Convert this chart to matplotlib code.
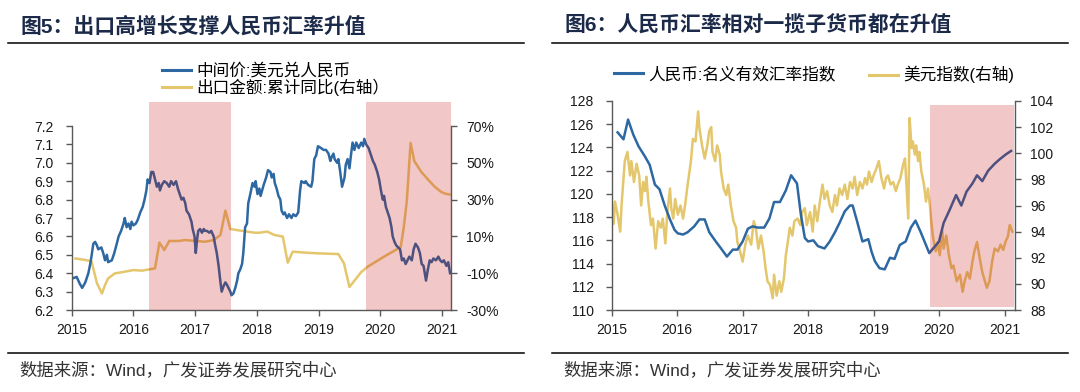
import numpy as np
import matplotlib.pyplot as plt
from matplotlib.patches import Rectangle
from matplotlib.lines import Line2D
from matplotlib.ticker import FuncFormatter

plt.rcParams['font.family'] = ['Liberation Sans', 'Noto Sans CJK SC']

# ---- figure 5: USD/CNY central parity (left) and export yoy (right axis) ----
FIX_T = [2015.00, 2015.08, 2015.135, 2015.17, 2015.22, 2015.27, 2015.30, 2015.32, 2015.35, 2015.38,
         2015.41, 2015.43, 2015.48, 2015.51, 2015.54, 2015.57, 2015.59, 2015.65, 2015.69, 2015.73,
         2015.76, 2015.80, 2015.84, 2015.86, 2015.89, 2015.92, 2015.95, 2015.97, 2016.00, 2016.04,
         2016.07, 2016.11, 2016.15, 2016.18, 2016.21, 2016.23, 2016.26, 2016.29, 2016.32, 2016.35,
         2016.38, 2016.41, 2016.43, 2016.46, 2016.50, 2016.54, 2016.58, 2016.61, 2016.65, 2016.69,
         2016.72, 2016.76, 2016.78, 2016.81, 2016.84, 2016.86, 2016.90, 2016.94, 2016.96, 2016.99,
         2017.01, 2017.03, 2017.05, 2017.08, 2017.11, 2017.14, 2017.16, 2017.19, 2017.23, 2017.26,
         2017.30, 2017.32, 2017.35, 2017.38, 2017.41, 2017.43, 2017.46, 2017.49, 2017.51, 2017.54,
         2017.57, 2017.59, 2017.62, 2017.65, 2017.68, 2017.70, 2017.73, 2017.76, 2017.78, 2017.81,
         2017.84, 2017.86, 2017.90, 2017.93, 2017.96, 2017.98, 2018.01, 2018.04, 2018.06, 2018.11,
         2018.15, 2018.18, 2018.22, 2018.24, 2018.27, 2018.29, 2018.32, 2018.35, 2018.38, 2018.40,
         2018.43, 2018.45, 2018.49, 2018.52, 2018.56, 2018.59, 2018.63, 2018.67, 2018.70, 2018.72,
         2018.77, 2018.79, 2018.83, 2018.88, 2018.90, 2018.93, 2018.96, 2018.99, 2019.04, 2019.08,
         2019.12, 2019.16, 2019.19, 2019.21, 2019.24, 2019.26, 2019.30, 2019.32, 2019.35, 2019.38,
         2019.42, 2019.44, 2019.47, 2019.50, 2019.52, 2019.55, 2019.58, 2019.61, 2019.65, 2019.69,
         2019.72, 2019.74, 2019.77, 2019.81, 2019.84, 2019.88, 2019.91, 2019.95, 2019.98, 2020.01,
         2020.04, 2020.06, 2020.09, 2020.12, 2020.15, 2020.18, 2020.20, 2020.23, 2020.26, 2020.29,
         2020.32, 2020.35, 2020.38, 2020.41, 2020.44, 2020.47, 2020.51, 2020.54, 2020.57, 2020.61,
         2020.64, 2020.67, 2020.70, 2020.74, 2020.77, 2020.80, 2020.83, 2020.86, 2020.90, 2020.94,
         2020.97, 2021.00, 2021.03, 2021.07, 2021.10, 2021.13]
FIX = [6.37, 6.38, 6.34, 6.32, 6.35, 6.40, 6.45, 6.49, 6.56, 6.57,
       6.55, 6.53, 6.54, 6.51, 6.47, 6.50, 6.46, 6.47, 6.51, 6.56,
       6.60, 6.63, 6.67, 6.70, 6.65, 6.67, 6.64, 6.68, 6.66, 6.67,
       6.69, 6.73, 6.76, 6.80, 6.85, 6.91, 6.89, 6.95, 6.95, 6.91,
       6.87, 6.89, 6.85, 6.88, 6.90, 6.89, 6.87, 6.90, 6.88, 6.90,
       6.86, 6.82, 6.80, 6.81, 6.78, 6.74, 6.72, 6.68, 6.64, 6.60,
       6.51, 6.58, 6.63, 6.64, 6.62, 6.64, 6.63, 6.63, 6.62, 6.63,
       6.60, 6.56, 6.51, 6.44, 6.35, 6.30, 6.33, 6.35, 6.34, 6.32,
       6.30, 6.28, 6.29, 6.32, 6.36, 6.40, 6.42, 6.45, 6.51, 6.65,
       6.67, 6.78, 6.84, 6.89, 6.87, 6.90, 6.83, 6.86, 6.82, 6.88,
       6.92, 6.96, 6.95, 6.92, 6.94, 6.89, 6.86, 6.82, 6.80, 6.74,
       6.72, 6.73, 6.70, 6.72, 6.70, 6.72, 6.71, 6.73, 6.85, 6.90,
       6.89, 6.90, 6.88, 6.87, 6.90, 7.02, 7.04, 7.09, 7.08, 7.07,
       7.07, 7.05, 7.01, 7.03, 7.05, 7.02, 7.00, 7.02, 6.95, 6.87,
       6.92, 6.99, 7.02, 6.97, 7.03, 7.11, 7.07, 7.11, 7.08, 7.11,
       7.09, 7.13, 7.10, 7.08, 7.05, 7.01, 6.99, 6.95, 6.91, 6.85,
       6.80, 6.82, 6.76, 6.73, 6.70, 6.65, 6.60, 6.57, 6.55, 6.54,
       6.53, 6.47, 6.48, 6.45, 6.47, 6.49, 6.47, 6.53, 6.56, 6.54,
       6.51, 6.45, 6.44, 6.36, 6.42, 6.47, 6.46, 6.48, 6.47, 6.49,
       6.47, 6.46, 6.47, 6.44, 6.46, 6.40]

EXP_T = [2015.06, 2015.22, 2015.32, 2015.41, 2015.49, 2015.54, 2015.59, 2015.70, 2015.86, 2016.00,
         2016.14, 2016.24, 2016.35, 2016.42, 2016.50, 2016.58, 2016.73, 2016.84, 2016.95, 2017.16,
         2017.30, 2017.41, 2017.49, 2017.57, 2017.76, 2017.97, 2018.04, 2018.17, 2018.28, 2018.42,
         2018.50, 2018.58, 2018.77, 2018.98, 2019.32, 2019.41, 2019.50, 2019.69, 2019.79, 2020.06,
         2020.33, 2020.38, 2020.43, 2020.49, 2020.55, 2020.66, 2020.77, 2020.88, 2020.98, 2021.05,
         2021.12]
EXP = [-2.0, -2.8, -3.5, -15.5, -21.0, -16.4, -12.8, -10.1, -9.2, -8.3,
       -8.6, -8.0, -7.4, 6.6, 2.6, 7.5, 7.5, 8.0, 7.7, 7.1,
       8.0, 10.8, 24.0, 14.0, 13.0, 12.0, 12.0, 12.6, 10.8, 9.9,
       -4.3, 1.7, 1.2, 0.8, 0.4, -4.6, -17.5, -9.4, -6.6, -1.0,
       4.2, 15.0, 29.6, 60.8, 51.0, 45.2, 41.0, 37.0, 34.3, 33.2,
       32.8]

# ---- figure 6: CNY NEER (left) and dollar index (right axis) ----
NEER_T = [2015.09, 2015.18, 2015.25, 2015.33, 2015.41, 2015.51, 2015.58, 2015.66, 2015.73, 2015.81,
          2015.89, 2015.96, 2016.01, 2016.09, 2016.16, 2016.26, 2016.34, 2016.42, 2016.49, 2016.59,
          2016.67, 2016.76, 2016.85, 2016.92, 2017.00, 2017.08, 2017.15, 2017.23, 2017.33, 2017.41,
          2017.48, 2017.57, 2017.66, 2017.74, 2017.83, 2017.89, 2017.95, 2018.00, 2018.08, 2018.15,
          2018.25, 2018.33, 2018.41, 2018.48, 2018.56, 2018.64, 2018.68, 2018.75, 2018.83, 2018.92,
          2018.97, 2019.02, 2019.09, 2019.17, 2019.25, 2019.32, 2019.40, 2019.49, 2019.57, 2019.64,
          2019.72, 2019.80, 2019.85, 2019.91, 2020.00, 2020.07, 2020.16, 2020.26, 2020.34, 2020.42,
          2020.51, 2020.58, 2020.66, 2020.75, 2020.85, 2020.93, 2021.02, 2021.10]
NEER = [125.3, 124.7, 126.4, 125.1, 124.1, 123.2, 122.5, 120.8, 120.4, 119.0,
        117.8, 116.9, 116.6, 116.5, 116.7, 117.2, 117.8, 117.8, 116.7, 115.9,
        115.3, 114.6, 115.2, 115.2, 115.9, 117.0, 117.2, 117.1, 117.1, 117.9,
        119.3, 119.3, 120.3, 121.6, 120.9, 118.2, 116.2, 115.9, 116.0, 115.5,
        115.3, 115.9, 116.7, 117.5, 118.5, 119.0, 119.0, 117.6, 115.9, 116.1,
        115.0, 114.2, 113.6, 113.5, 114.5, 114.4, 115.6, 115.9, 117.1, 117.7,
        116.7, 115.6, 114.9, 115.3, 115.9, 117.5, 118.6, 119.9, 119.0, 120.2,
        120.9, 121.6, 121.1, 122.0, 122.6, 123.0, 123.4, 123.7]

DXY_T = [2015.00, 2015.03, 2015.05, 2015.09, 2015.13, 2015.15, 2015.18, 2015.20, 2015.24, 2015.28,
         2015.30, 2015.34, 2015.38, 2015.42, 2015.45, 2015.48, 2015.51, 2015.53, 2015.56, 2015.60,
         2015.63, 2015.67, 2015.71, 2015.75, 2015.78, 2015.82, 2015.85, 2015.89, 2015.91, 2015.94,
         2015.97, 2016.01, 2016.05, 2016.09, 2016.12, 2016.16, 2016.21, 2016.24, 2016.28, 2016.32,
         2016.34, 2016.38, 2016.42, 2016.46, 2016.49, 2016.52, 2016.54, 2016.58, 2016.61, 2016.65,
         2016.67, 2016.71, 2016.75, 2016.78, 2016.82, 2016.86, 2016.90, 2016.92, 2016.96, 2017.00,
         2017.04, 2017.08, 2017.13, 2017.17, 2017.20, 2017.24, 2017.28, 2017.32, 2017.35, 2017.38,
         2017.42, 2017.46, 2017.48, 2017.52, 2017.56, 2017.59, 2017.63, 2017.66, 2017.69, 2017.72,
         2017.76, 2017.79, 2017.84, 2017.88, 2017.91, 2017.95, 2017.98, 2018.03, 2018.07, 2018.10,
         2018.14, 2018.18, 2018.22, 2018.25, 2018.29, 2018.33, 2018.37, 2018.41, 2018.44, 2018.48,
         2018.52, 2018.56, 2018.60, 2018.64, 2018.68, 2018.71, 2018.75, 2018.79, 2018.83, 2018.87,
         2018.90, 2018.93, 2018.97, 2019.00, 2019.04, 2019.08, 2019.12, 2019.16, 2019.19, 2019.22,
         2019.26, 2019.30, 2019.34, 2019.37, 2019.41, 2019.45, 2019.48, 2019.50, 2019.53, 2019.55,
         2019.58, 2019.60, 2019.63, 2019.65, 2019.68, 2019.70, 2019.73, 2019.77, 2019.80, 2019.83,
         2019.86, 2019.88, 2019.91, 2019.95, 2019.98, 2020.01, 2020.05, 2020.07, 2020.11, 2020.15,
         2020.19, 2020.22, 2020.27, 2020.32, 2020.36, 2020.39, 2020.43, 2020.47, 2020.51, 2020.54,
         2020.58, 2020.62, 2020.66, 2020.70, 2020.73, 2020.77, 2020.81, 2020.85, 2020.90, 2020.94,
         2020.98, 2021.02, 2021.05, 2021.08, 2021.12]
DXY = [96.3, 94.6, 96.3, 95.3, 94.0, 96.0, 98.1, 99.4, 100.1, 98.3,
       99.4, 97.8, 99.2, 98.3, 96.0, 97.8, 97.1, 98.2, 96.3, 94.5,
       95.0, 92.7, 94.8, 94.3, 95.0, 93.1, 95.5, 97.3, 95.8, 95.0,
       96.5, 95.3, 96.0, 95.0, 96.0, 97.6, 99.4, 101.1, 100.9, 103.2,
       101.9, 100.6, 99.6, 100.6, 101.7, 102.0, 100.1, 99.4, 100.6, 99.9,
       98.6, 97.3, 96.8, 97.6, 96.0, 94.8, 94.3, 93.2, 92.5, 91.7,
       93.0, 93.7, 93.0, 94.8, 94.3, 92.7, 93.7, 92.5, 91.2, 90.2,
       89.9, 88.9, 90.7, 89.1, 90.2, 89.4, 90.4, 92.2, 93.2, 94.3,
       93.7, 94.8, 95.0, 94.5, 95.5, 95.8, 94.5, 95.5, 94.0, 96.0,
       94.8, 96.3, 97.6, 96.5, 97.1, 96.0, 95.5, 96.8, 96.0, 97.3,
       96.8, 97.6, 96.5, 97.8, 97.3, 98.2, 96.8, 97.8, 97.3, 98.1,
       97.6, 98.6, 97.8, 98.3, 98.8, 99.4, 98.1, 97.3, 98.1, 98.3,
       97.6, 97.8, 97.1, 97.6, 98.1, 99.1, 99.6, 97.8, 95.0, 102.7,
       100.4, 100.9, 99.9, 100.6, 99.4, 100.1, 98.6, 97.6, 96.3, 97.3,
       96.0, 94.8, 93.5, 92.5, 93.2, 92.2, 94.0, 92.7, 93.7, 92.2,
       91.2, 91.4, 90.2, 90.7, 89.4, 90.2, 90.9, 90.4, 91.7, 92.5,
       93.2, 92.0, 90.9, 90.2, 89.7, 90.2, 91.7, 92.7, 92.5, 93.0,
       92.6, 93.3, 93.6, 94.5, 94.0]

YEARS = [2015, 2016, 2017, 2018, 2019, 2020, 2021]

BLUE = '#2d68a3'
GOLD = '#e4c66c'
SHADE = '#c00000'
AXIS = '#595959'
W, H = 1080, 392


def px(x, y):
    return x / W, 1 - y / H


def setup(rect, xmax):
    ax = fig.add_axes(rect)
    ax2 = ax.twinx()
    ax.set_zorder(2)
    ax.patch.set_visible(False)
    for s in ['top', 'right']:
        ax.spines[s].set_visible(False)
    for s in ['top', 'left', 'bottom']:
        ax2.spines[s].set_visible(False)
    for a in (ax, ax2):
        for s in a.spines.values():
            s.set_color(AXIS)
            s.set_linewidth(1.0)
        a.tick_params(direction='out', length=4, width=1, colors=AXIS,
                      labelcolor='#1a1a1a', labelsize=10)
    ax.tick_params(axis='y', pad=9)
    ax.tick_params(axis='x', pad=5)
    ax2.tick_params(axis='y', pad=7)
    ax.set_xlim(2015, xmax)
    ax.set_xticks(YEARS)
    ax.set_xticklabels([str(y) for y in YEARS])
    return ax, ax2


def shade(ax, x0, x1, y0, y1):
    ax.add_patch(Rectangle((x0, y0), x1 - x0, y1 - y0, transform=ax.get_xaxis_transform(),
                           facecolor=SHADE, alpha=0.22, lw=0, zorder=5, clip_on=False))


fig = plt.figure(figsize=(W / 100, H / 100), dpi=100, facecolor='white')

# left panel
x0, y0 = px(71.7, 310)
x1, y1 = px(450.7, 126)
ax, ax2 = setup([x0, y0, x1 - x0, y1 - y0], 2021.14)
ax.plot(FIX_T, FIX, color=BLUE, lw=1.8)
ax2.plot(EXP_T, EXP, color=GOLD, lw=1.8)
ax.set_ylim(6.2, 7.2)
ax.set_yticks(np.arange(6.2, 7.21, 0.1))
ax.yaxis.set_major_formatter(FuncFormatter(lambda v, p: f'{v:.1f}'))
ax2.set_ylim(-30, 70)
ax2.set_yticks(range(-30, 71, 20))
ax2.yaxis.set_major_formatter(FuncFormatter(lambda v, p: f'{v:.0f}%'))
shade(ax, 2016.26, 2017.58, 0, 1.13)
shade(ax, 2019.775, 2021.15, 0, 1.13)

h = [Line2D([], [], color=BLUE, lw=2.2), Line2D([], [], color=GOLD, lw=2.2)]
fig.legend(h, ['中间价:美元兑人民币', '出口金额:累计同比(右轴）'], loc='upper left',
           bbox_to_anchor=px(162, 63), frameon=False, fontsize=12, handlelength=1.75,
           handletextpad=0.3, labelspacing=0.0, borderpad=0, borderaxespad=0)

# right panel
x0, y0 = px(611.7, 310)
x1, y1 = px(1015, 101)
bx, bx2 = setup([x0, y0, x1 - x0, y1 - y0], 2021.16)
bx.plot(NEER_T, NEER, color=BLUE, lw=1.8)
bx2.plot(DXY_T, DXY, color=GOLD, lw=1.8)
bx.set_ylim(110, 128)
bx.set_yticks(range(110, 129, 2))
bx2.set_ylim(88, 104)
bx2.set_yticks(range(88, 105, 2))
shade(bx, 2019.86, 2021.15, 0.013, 0.981)

fig.legend([Line2D([], [], color=BLUE, lw=2.2)], ['人民币:名义有效汇率指数'], loc='upper left',
           bbox_to_anchor=px(614, 66), frameon=False, fontsize=12, handlelength=1.75,
           handletextpad=0.3, borderpad=0, borderaxespad=0)
fig.legend([Line2D([], [], color=GOLD, lw=2.2)], ['美元指数(右轴)'], loc='upper left',
           bbox_to_anchor=px(869, 66), frameon=False, fontsize=12, handlelength=1.75,
           handletextpad=0.3, borderpad=0, borderaxespad=0)

# titles, rules and source notes
for x, text in [(20.7, '图5：出口高增长支撑人民币汇率升值'), (564, '图6：人民币汇率相对一揽子货币都在升值')]:
    fig.text(*px(x, 26), text, ha='left', va='center', fontsize=15, fontweight='bold', color='#1c2a4a')
for x, text in [(19, '数据来源：Wind，广发证券发展研究中心'), (563.5, '数据来源：Wind，广发证券发展研究中心')]:
    fig.text(*px(x, 370), text, ha='left', va='center', fontsize=12.5, color='#333333')
for xa, xb in [(8, 524), (552, 1068)]:
    for y in (42.7, 353.3):
        fig.add_artist(Line2D([xa / W, xb / W], [1 - y / H] * 2, color='black', lw=1.1))

fig.savefig('out.png', dpi=100, facecolor='white')
